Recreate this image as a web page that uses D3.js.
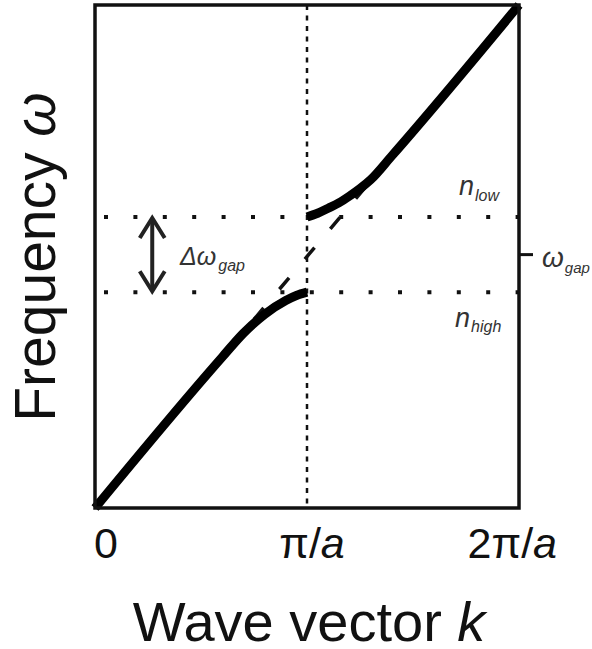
<!DOCTYPE html>
<html>
<head>
<meta charset="utf-8">
<script src="https://cdn.jsdelivr.net/npm/d3@7"></script>
<style>
  body { margin: 0; background: #fff; }
  svg { display: block; font-family: "Liberation Sans", Arial, sans-serif; }
</style>
</head>
<body>
<svg id="chart" width="592" height="649"></svg>
<script>
// wave vector k in units of pi/a, frequency in the same units
const kTicks = [0, 1, 2];
const kTickText = ['0', 'π/', '2π/'];
const kTickItalic = ['', 'a', 'a'];

// lower band (below the gap) and upper band (above the gap)
const lowerBand = [[0, 0], [0.6, 0.6], [0.7, 0.695], [0.8, 0.77], [0.9, 0.825], [0.95, 0.845], [1, 0.858]];
const upperBand = [[1, 1.157], [1.05, 1.172], [1.1, 1.192], [1.15, 1.213], [1.2, 1.24], [1.25, 1.27], [1.3, 1.305], [1.4, 1.4], [2, 2]];
// light line of the uniform medium
const lightLine = [[0, 0], [2, 2]];
// band edges and gap centre
const gapEdges = [0.858, 1.157];
const gapCenter = 1.0075;

const svg = d3.select('#chart');
const mLeft = 95, mRight = 519, mTop = 5, mBottom = 508;

const x = d3.scaleLinear().domain([0, 2]).range([mLeft, mRight]);
const y = d3.scaleLinear().domain([0, 2]).range([mBottom, mTop]);

const line = d3.line()
    .x(d => x(d[0]))
    .y(d => y(d[1]));

// vertical dotted line at the zone edge
svg.append('line')
    .attr('x1', x(1)).attr('x2', x(1))
    .attr('y1', y(2)).attr('y2', y(0))
    .attr('stroke', '#111')
    .attr('stroke-width', 2.5)
    .attr('stroke-dasharray', '5 5.5');

// dotted lines at the band edges
svg.selectAll('.edge')
    .data(gapEdges)
    .enter()
    .append('line')
    .attr('class', 'edge')
    .attr('x1', x(0)).attr('x2', x(2))
    .attr('y1', d => y(d)).attr('y2', d => y(d))
    .attr('stroke', '#111')
    .attr('stroke-width', 4)
    .attr('stroke-dasharray', '4 25.4')
    .attr('stroke-dashoffset', -9);

// dashed light line
svg.append('path')
    .datum(lightLine)
    .attr('d', line)
    .attr('fill', 'none')
    .attr('stroke', '#111')
    .attr('stroke-width', 3.5)
    .attr('stroke-dasharray', '15 24.5')
    .attr('stroke-dashoffset', -9.6);

// the two bands
const bandLine = d3.line()
    .x(d => x(d[0]))
    .y(d => y(d[1]))
    .curve(d3.curveMonotoneX);

svg.selectAll('.band')
    .data([lowerBand, upperBand])
    .enter()
    .append('path')
    .attr('class', 'band')
    .attr('d', bandLine)
    .attr('fill', 'none')
    .attr('stroke', '#000')
    .attr('stroke-width', 9)
    .attr('stroke-linejoin', 'round');

// frame
svg.append('rect')
    .attr('x', mLeft).attr('y', mTop)
    .attr('width', mRight - mLeft).attr('height', mBottom - mTop)
    .attr('fill', 'none')
    .attr('stroke', '#111')
    .attr('stroke-width', 3.5);

// tick on the right at the gap centre
svg.append('line')
    .attr('x1', mRight).attr('x2', mRight + 14)
    .attr('y1', y(gapCenter)).attr('y2', y(gapCenter))
    .attr('stroke', '#111')
    .attr('stroke-width', 3);

// double arrow for the gap width
const ax = x(0.27);
const arrow = svg.append('g')
    .attr('stroke', '#222')
    .attr('stroke-width', 4)
    .attr('fill', 'none');
arrow.append('line')
    .attr('x1', ax).attr('x2', ax)
    .attr('y1', y(gapEdges[1]) + 2).attr('y2', y(gapEdges[0]) - 2);
arrow.append('path')
    .attr('d', `M${ax - 12.5},${y(gapEdges[1]) + 21} L${ax},${y(gapEdges[1]) + 1} L${ax + 12.5},${y(gapEdges[1]) + 21}`);
arrow.append('path')
    .attr('d', `M${ax - 12.5},${y(gapEdges[0]) - 21} L${ax},${y(gapEdges[0]) - 1} L${ax + 12.5},${y(gapEdges[0]) - 21}`);

// annotation with a subscript
function subLabel(px, py, main, sub, size, subSize, dx, dy) {
    const t = svg.append('text')
        .attr('x', px).attr('y', py)
        .attr('fill', '#333')
        .attr('font-style', 'italic')
        .attr('font-size', size);
    t.append('tspan').text(main);
    t.append('tspan')
        .attr('font-size', subSize)
        .attr('dx', dx)
        .attr('dy', dy)
        .text(sub);
}

subLabel(180, y(gapCenter) + 10, 'Δω', 'gap', 25, 16, 2, 6);
subLabel(459, 195, 'n', 'low', 27, 16, 1, 6);
subLabel(455, 327, 'n', 'high', 27, 16, 1, 5);
subLabel(542, y(gapCenter) + 12, 'ω', 'gap', 28, 15, 1, 6);

// x tick labels
const anchors = ['start', 'middle', 'end'];
const shift = [-1, 5, 38];
kTicks.forEach((k, i) => {
    const t = svg.append('text')
        .attr('x', x(k) + shift[i])
        .attr('y', 558)
        .attr('text-anchor', anchors[i])
        .attr('font-size', 43)
        .attr('fill', '#111');
    t.append('tspan').text(kTickText[i]);
    if (kTickItalic[i]) {
        t.append('tspan').attr('font-style', 'italic').text(kTickItalic[i]);
    }
});

// axis titles
const xt = svg.append('text')
    .attr('x', 309)
    .attr('y', 641)
    .attr('text-anchor', 'middle')
    .attr('font-size', 56)
    .attr('fill', '#111');
xt.append('tspan').text('Wave vector ');
xt.append('tspan').attr('font-style', 'italic').text('k');

const yt = svg.append('text')
    .attr('transform', 'translate(55,257) rotate(-90)')
    .attr('text-anchor', 'middle')
    .attr('font-size', 57)
    .attr('fill', '#111');
yt.append('tspan').text('Frequency ');
yt.append('tspan').attr('font-style', 'italic').text('ω');
</script>
</body>
</html>
